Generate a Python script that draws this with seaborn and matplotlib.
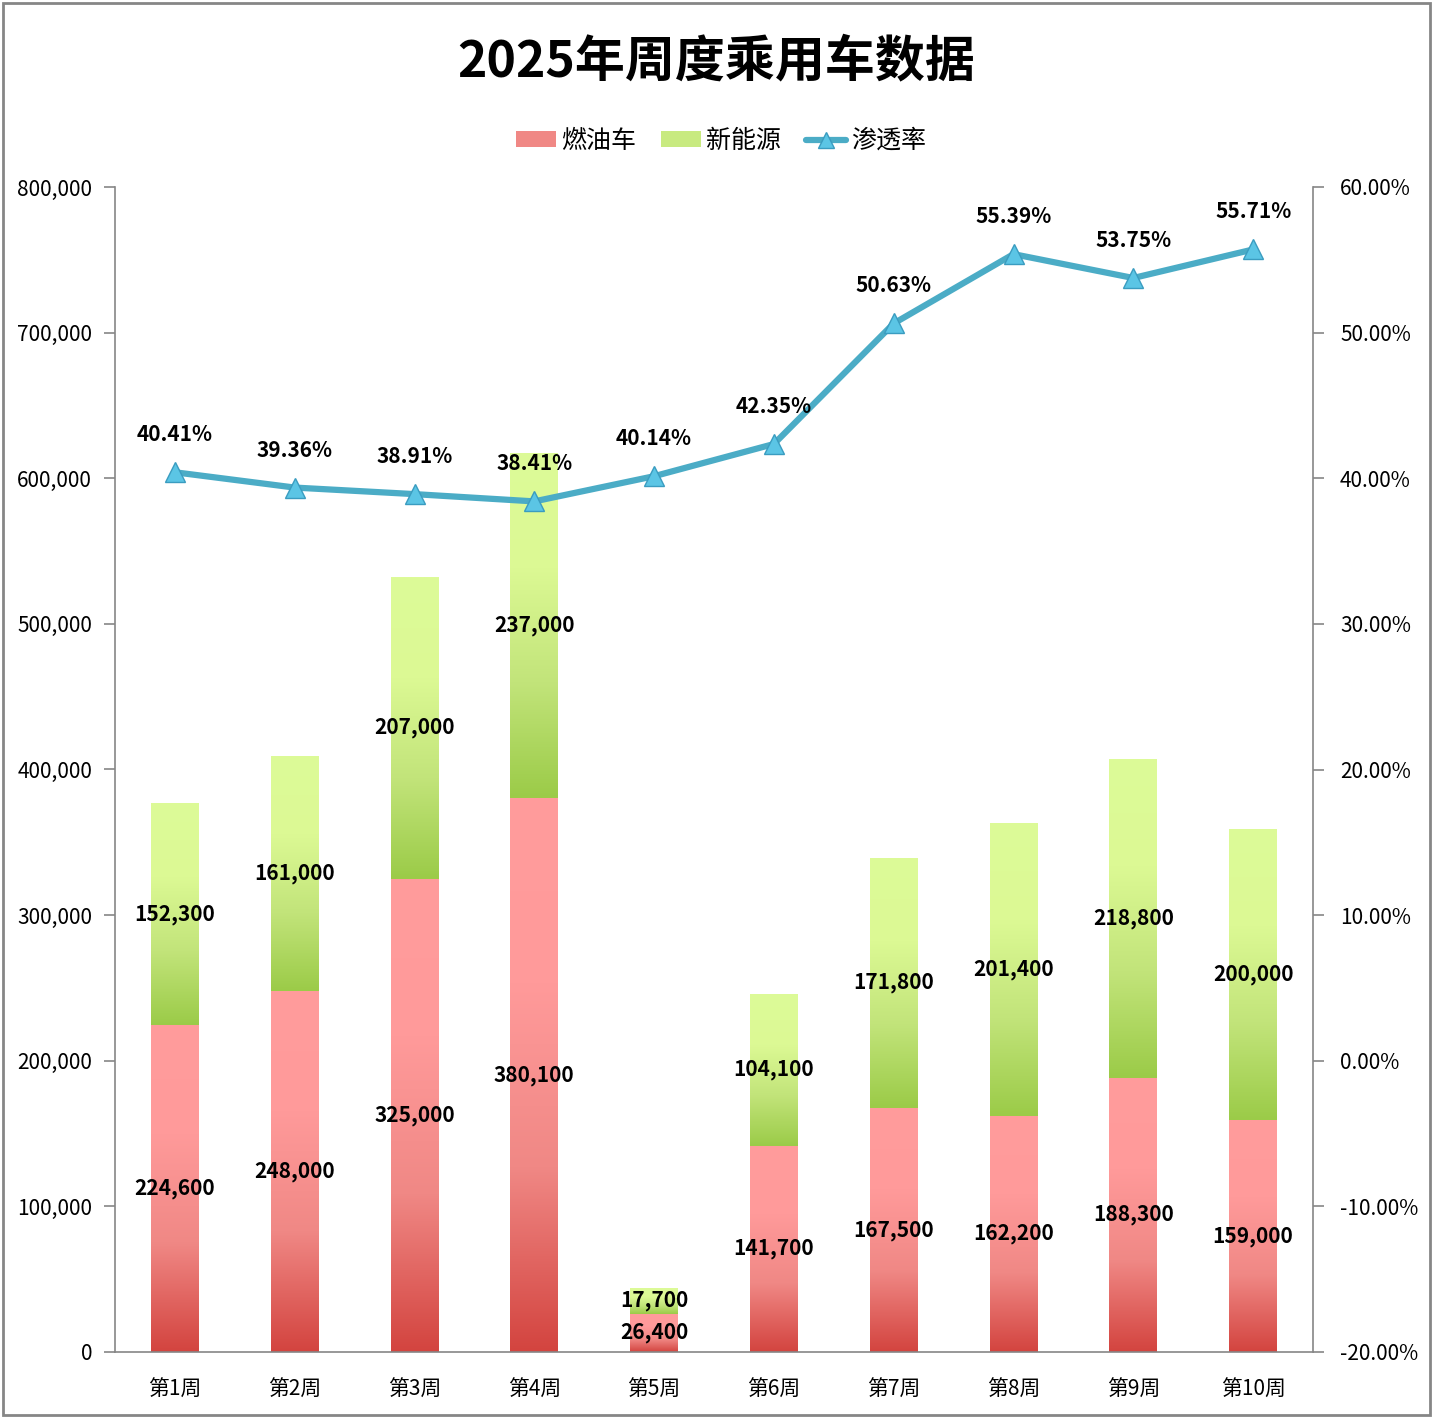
import numpy as np
import pandas as pd
import seaborn as sns
import matplotlib.pyplot as plt
from matplotlib.colors import LinearSegmentedColormap
from matplotlib.lines import Line2D
from matplotlib.patches import Patch, Rectangle
from matplotlib.ticker import FuncFormatter, MultipleLocator

# === Data ===
weeks = ["第1周", "第2周", "第3周", "第4周", "第5周", "第6周", "第7周", "第8周", "第9周", "第10周"]
ice = [224600, 248000, 325000, 380100, 26400, 141700, 167500, 162200, 188300, 159000]
nev = [152300, 161000, 207000, 237000, 17700, 104100, 171800, 201400, 218800, 200000]
rate = [40.41, 39.36, 38.91, 38.41, 40.14, 42.35, 50.63, 55.39, 53.75, 55.71]

df = pd.DataFrame({"week": weeks, "ice": ice, "nev": nev})
df["total"] = df["ice"] + df["nev"]

# === Style ===
sns.set_style("white")
plt.rcParams['font.family'] = ['Noto Sans CJK SC', 'DejaVu Sans']
plt.rcParams['text.color'] = 'black'
plt.rcParams['xtick.labelcolor'] = 'black'
plt.rcParams['ytick.labelcolor'] = 'black'

red_cmap = LinearSegmentedColormap.from_list("red", ["#D3443F", "#F08885", "#FF9A9A", "#FF9C9C"])
green_cmap = LinearSegmentedColormap.from_list("green", ["#9BCB48", "#C2E47A", "#DCF994", "#DDFB98"])
line_color = "#4BACC6"
axis_gray = "#868686"

fig = plt.figure(figsize=(14.33, 14.18), dpi=100)
ax = fig.add_axes([115 / 1433, 1 - 1352 / 1418, (1313 - 115) / 1433, (1352 - 187) / 1418])

# stacked bars: total (green) then fuel (red) on top of it
sns.barplot(data=df, x="week", y="total", color="#C2E47A", width=0.40,
            saturation=1, errorbar=None, ax=ax)
sns.barplot(data=df, x="week", y="ice", color="#F08885", width=0.40,
            saturation=1, errorbar=None, ax=ax)

grad = np.linspace(0, 1, 256).reshape(-1, 1)
n = len(weeks)
for i, p in enumerate(ax.patches):
    cmap = green_cmap if i < n else red_cmap
    x0, w = p.get_x(), p.get_width()
    if i < n:
        y0, y1 = df["ice"].iloc[i], df["total"].iloc[i]
    else:
        y0, y1 = 0, p.get_height()
    im = ax.imshow(grad, extent=[x0, x0 + w, y0, y1], origin="lower",
                   aspect="auto", cmap=cmap, zorder=p.get_zorder())
    im.set_clip_path(p)
    p.set_facecolor("none")
    p.set_edgecolor("none")

ax.set_xlim(-0.5, n - 0.5)
ax.set_ylim(0, 800000)
ax.yaxis.set_major_locator(MultipleLocator(100000))
ax.yaxis.set_major_formatter(FuncFormatter(lambda v, _: f"{int(v):,}"))
ax.set_xlabel("")
ax.set_ylabel("")
ax.tick_params(axis="y", direction="out", length=8, width=1.2, color=axis_gray,
               labelsize=15, pad=8.5, left=True)
ax.tick_params(axis="x", length=0, labelsize=15, pad=19)
for s in ["left", "bottom"]:
    ax.spines[s].set_color(axis_gray)
    ax.spines[s].set_linewidth(1.2)
ax.spines["top"].set_visible(False)
ax.spines["right"].set_visible(False)

# bar labels
for i in range(n):
    ax.text(i, df["ice"].iloc[i] / 2, f"{df['ice'].iloc[i]:,}", ha="center", va="center",
            fontsize=15, fontweight="bold", zorder=5)
    ax.text(i, df["ice"].iloc[i] + df["nev"].iloc[i] / 2, f"{df['nev'].iloc[i]:,}",
            ha="center", va="center", fontsize=15, fontweight="bold", zorder=5)

# === Penetration rate line ===
ax2 = ax.twinx()
sns.lineplot(x=np.arange(n), y=rate, ax=ax2, color=line_color, linewidth=4.5,
             marker="^", markersize=15, markerfacecolor="#5BC5E5",
             markeredgecolor="#3A9CC0", markeredgewidth=1)
ax2.set_ylim(-20, 60)
ax2.yaxis.set_major_locator(MultipleLocator(10))
ax2.yaxis.set_major_formatter(FuncFormatter(lambda v, _: f"{v:.2f}%"))
ax2.tick_params(axis="y", direction="out", length=8, width=1.2, color=axis_gray,
                labelsize=15, pad=11.5, right=True)
for s in ["left", "top", "bottom"]:
    ax2.spines[s].set_visible(False)
ax2.spines["right"].set_color(axis_gray)
ax2.spines["right"].set_linewidth(1.2)
for i, r in enumerate(rate):
    ax2.annotate(f"{r:.2f}%", (i, r), xytext=(0, 27), textcoords="offset points",
                 ha="center", va="center", fontsize=15, fontweight="bold")

# === Title & legend ===
fig.text(0.5, 1 - 62 / 1418, "2025年周度乘用车数据", ha="center", va="center",
         fontsize=36, fontweight="bold")
handles = [
    Patch(facecolor="#F08885", edgecolor="none"),
    Patch(facecolor="#C8EA80", edgecolor="none"),
    Line2D([0], [0], color=line_color, linewidth=4.5, marker="^", markersize=12,
           markerfacecolor="#5BC5E5", markeredgecolor="#3A9CC0"),
]
fig.legend(handles, ["燃油车", "新能源", "渗透率"], loc="center",
           bbox_to_anchor=(0.503, 1 - 141 / 1418), ncol=3, frameon=False,
           fontsize=18, handlelength=1.6, handleheight=0.6, columnspacing=1.0,
           handletextpad=0.2)

# outer border
fig.patches.append(Rectangle((0.002, 0.002), 0.996, 0.996, transform=fig.transFigure,
                             fill=False, edgecolor=axis_gray, linewidth=2))

fig.savefig("out.png", dpi=100)
